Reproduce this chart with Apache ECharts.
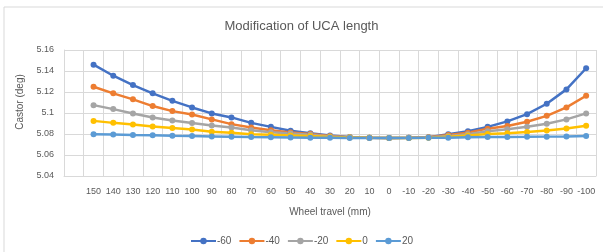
<!DOCTYPE html>
<html>
<head>
<meta charset="utf-8">
<script src="https://cdn.jsdelivr.net/npm/echarts@6/dist/echarts.min.js"></script>
<style>
    html, body { margin: 0; padding: 0; background: #fff; }
    #main { width: 603px; height: 252px; }
</style>
</head>
<body>
<div id="main"></div>
<script>
// wheel travel (mm), x categories
var travel = ['150', '140', '130', '120', '110', '100', '90', '80', '70', '60', '50', '40', '30', '20', '10', '0',
    '-10', '-20', '-30', '-40', '-50', '-60', '-70', '-80', '-90', '-100'];
var seriesNames = ['-60', '-40', '-20', '0', '20'];
var colors = ['#4472C4', '#ED7D31', '#A5A5A5', '#FFC000', '#5B9BD5'];

// castor (deg)
var castorM60 = [5.1460, 5.1355, 5.1266, 5.1187, 5.1116, 5.1053, 5.0996, 5.0958, 5.0906, 5.0868, 5.0830, 5.0808, 5.0785,
    5.0772, 5.0765, 5.0763, 5.0765, 5.0770, 5.0798, 5.0827, 5.0868, 5.0920, 5.0989, 5.1088, 5.1225, 5.1426];
var castorM40 = [5.1250, 5.1187, 5.1130, 5.1066, 5.1018, 5.0986, 5.0939, 5.0894, 5.0862, 5.0836, 5.0814, 5.0800, 5.0780,
    5.0770, 5.0765, 5.0763, 5.0764, 5.0768, 5.0791, 5.0813, 5.0851, 5.0877, 5.0916, 5.0973, 5.1053, 5.1164];
var castorM20 = [5.1075, 5.1037, 5.0996, 5.0958, 5.0929, 5.0905, 5.0882, 5.0862, 5.0836, 5.0817, 5.0805, 5.0793, 5.0776,
    5.0769, 5.0765, 5.0763, 5.0764, 5.0766, 5.0782, 5.0798, 5.0827, 5.0846, 5.0868, 5.0897, 5.0939, 5.0996];
var castor0 = [5.0925, 5.0906, 5.0891, 5.0872, 5.0856, 5.0843, 5.0822, 5.0811, 5.0798, 5.0792, 5.0786, 5.0780, 5.0772,
    5.0767, 5.0764, 5.0763, 5.0763, 5.0765, 5.0773, 5.0786, 5.0801, 5.0808, 5.0820, 5.0834, 5.0853, 5.0878];
var castor20 = [5.0798, 5.0795, 5.0790, 5.0787, 5.0783, 5.0780, 5.0777, 5.0774, 5.0771, 5.0769, 5.0767, 5.0765, 5.0764,
    5.0763, 5.0762, 5.0762, 5.0763, 5.0764, 5.0765, 5.0768, 5.0771, 5.0772, 5.0773, 5.0775, 5.0777, 5.0782];

var yTicks = { min: 5.04, max: 5.16, interval: 0.02 };

var allData = [castorM60, castorM40, castorM20, castor0, castor20];
var txt = '#595959';
var fontName = 'Liberation Sans';

// excel leaves an empty category in front
var xData = [''].concat(travel);

var chart = echarts.init(document.getElementById('main'));
var series = [];
for (var i = 0; i < allData.length; i++) {
    series.push({
        name: seriesNames[i],
        type: 'line',
        data: [null].concat(allData[i]),
        symbol: 'circle',
        symbolSize: 6,
        lineStyle: { width: 2.5, color: colors[i] },
        itemStyle: { color: colors[i] },
        emphasis: { disabled: true }
    });
}

var option = {
    animation: false,
    textStyle: { fontFamily: fontName },
    title: {
        text: 'Modification of UCA length',
        left: 'center',
        top: 15,
        textStyle: { fontSize: 13, fontWeight: 'normal', color: txt, fontFamily: fontName }
    },
    graphic: [{
        type: 'rect',
        shape: { x: 4, y: 7, width: 620, height: 260 },
        style: { fill: 'none', stroke: '#d9d9d9', lineWidth: 1 },
        silent: true
    }],
    grid: { left: 64, right: 7, top: 50, bottom: 76, containLabel: false },
    legend: {
        data: seriesNames,
        top: 231,
        left: 'center',
        itemWidth: 25,
        itemHeight: 8,
        itemGap: 7,
        textStyle: { fontSize: 10, color: txt, fontFamily: fontName, padding: [0, 0, 0, -4] }
    },
    xAxis: {
        type: 'category',
        data: xData,
        boundaryGap: true,
        name: 'Wheel travel (mm)',
        nameLocation: 'middle',
        nameGap: 31,
        nameTextStyle: { fontSize: 10, color: txt },
        axisLine: { lineStyle: { color: '#d9d9d9' } },
        axisTick: { show: false },
        axisLabel: { interval: 0, fontSize: 9, color: txt, margin: 11 },
        splitLine: { show: true, interval: 0, lineStyle: { color: '#d9d9d9' } }
    },
    yAxis: {
        type: 'value',
        min: yTicks.min,
        max: yTicks.max,
        interval: yTicks.interval,
        name: 'Castor (deg)',
        nameLocation: 'middle',
        nameGap: 38,
        nameTextStyle: { fontSize: 10, color: txt, padding: [0, 0, 0, 22] },
        axisLine: { show: true, lineStyle: { color: '#d9d9d9' } },
        axisTick: { show: false },
        axisLabel: {
            fontSize: 9, color: txt, margin: 10,
            formatter: function (v) { return String(parseFloat(v.toFixed(2))); }
        },
        splitLine: { lineStyle: { color: '#d9d9d9' } }
    },
    series: series
};
chart.setOption(option);
</script>
</body>
</html>
